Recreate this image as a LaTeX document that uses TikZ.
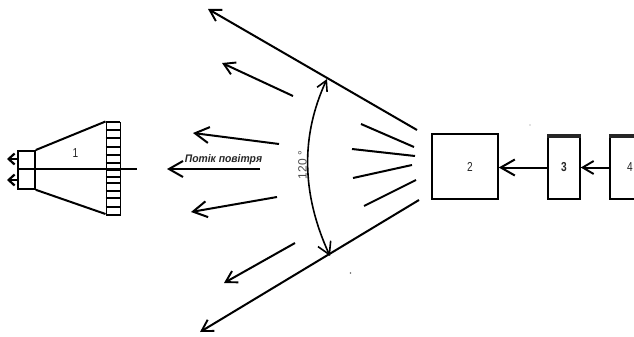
\documentclass[tikz,border=0pt]{standalone}
\usepackage{fontspec}
\setmainfont{Liberation Sans}
\usetikzlibrary{arrows.meta}
\begin{document}
\begin{tikzpicture}[x=1pt,y=-1pt,
  ln/.style={line width=2pt,black},
  arrbig/.style={ln,-{Straight Barb[length=14pt,width=16pt,line width=2pt]}},
  arrmid/.style={ln,-{Straight Barb[length=11pt,width=13pt,line width=1.9pt]}},
  arrsmall/.style={ln,-{Straight Barb[length=6pt,width=11pt,line width=2.2pt]}},
  lbl/.style={font=\fontsize{13}{15}\selectfont,inner sep=0pt,text=black!85,xscale=.78},
  boxn/.style={draw=black,line width=1.8pt,inner sep=0pt,anchor=north west}]
\useasboundingbox (0,0) rectangle (634,337);
% unit 1
\node[boxn,minimum width=17pt,minimum height=38pt] (noz) at (17,150) {};
\coordinate (fT) at (105.5,121.5);
\coordinate (fB) at (105.5,214);
\draw[ln] (noz.north east) -- (fT);
\draw[ln] (noz.south east) -- (fB);
\node[boxn,minimum width=14pt,minimum height=92.5pt] (grid) at (105.5,121.5) {};
\foreach \y in {130,138,147,155,163,170,177,183,191,198,207}
  \draw[line width=1.6pt,black] (105.5,\y) -- (119.5,\y);
\draw[line width=2.6pt] (105.5,122) -- (119.5,122);
\coordinate (axisL) at (17,169);
\coordinate (axisR) at (137,169);
\draw[line width=1.5pt,black] (axisL) -- (axisR);
\coordinate (a1s) at (17,159);
\coordinate (a1e) at (7,159);
\coordinate (a2s) at (17,180);
\coordinate (a2e) at (7,180);
\draw[arrsmall] (a1s) -- (a1e);
\draw[arrsmall] (a2s) -- (a2e);
\node[lbl] (n1) at (75.5,153) {1};
% outer rays
\coordinate (r1s) at (417,130); \coordinate (r1e) at (208,9);
\coordinate (r6s) at (419,200); \coordinate (r6e) at (200,332);
\draw[arrmid] (r1s) -- (r1e);
\draw[arrmid] (r6s) -- (r6e);
% arrows
\coordinate (r2s) at (293,96); \coordinate (r2e) at (222,63);
\coordinate (r3s) at (279,144); \coordinate (r3e) at (193,133);
\coordinate (r4s) at (260,169); \coordinate (r4e) at (167,169);
\coordinate (r5s) at (277,197); \coordinate (r5e) at (191,212);
\coordinate (r7s) at (295,243); \coordinate (r7e) at (224,283);
\draw[arrmid] (r2s) -- (r2e);
\draw[arrbig] (r3s) -- (r3e);
\draw[arrbig] (r4s) -- (r4e);
\draw[arrbig] (r5s) -- (r5e);
\draw[arrmid] (r7s) -- (r7e);
% inner short lines
\coordinate (s1a) at (361,124); \coordinate (s1b) at (414,147);
\coordinate (s2a) at (352,149); \coordinate (s2b) at (415,156);
\coordinate (s3a) at (353,178); \coordinate (s3b) at (412,165);
\coordinate (s4a) at (364,206); \coordinate (s4b) at (416,180);
\foreach \a/\b in {s1a/s1b,s2a/s2b,s3a/s3b,s4a/s4b}
  \draw[ln] (\a) -- (\b);
% angle arc
\coordinate (arcT) at (327,79);
\coordinate (arcB) at (330,256);
\draw[line width=1.6pt,black,{Straight Barb[length=10pt,width=11pt,line width=1.6pt]}-{Straight Barb[length=12pt,width=14pt,line width=1.6pt]}]
  (arcT) .. controls (301,135) and (301,193) .. (arcB);
\node[rotate=90,font=\fontsize{12}{14}\selectfont,inner sep=0pt,text=black!70] (ang) at (302.5,165) {120 °};
\node[font=\fontsize{11}{13}\selectfont\bfseries\itshape,inner sep=0pt,text=black!85,xscale=.94] (flow) at (223.5,159.5) {Потік повітря};
% boxes
\node[boxn,minimum width=66pt,minimum height=65pt] (b2) at (431,133) {};
\node[lbl] at (470,167) {2};
\node[boxn,minimum width=32pt,minimum height=64pt] (b3) at (547,134) {};
\draw[line width=3.5pt,black!85] ([yshift=-1.8pt]b3.north west) -- ([yshift=-1.8pt]b3.north east);
\node[lbl,font=\fontsize{13}{15}\selectfont\bfseries] at (564,167) {3};
\node[boxn,minimum width=40pt,minimum height=64pt] (b4) at (609,134) {};
\draw[line width=3.5pt,black!85] ([yshift=-1.8pt]b4.north west) -- ([yshift=-1.8pt]b4.north east);
\node[lbl] at (630,167) {4};
\coordinate (j3) at (547,167.5);
\coordinate (j4) at (609,167.5);
\draw[arrbig] (j3) -- (j3 -| b2.east);
\draw[arrmid] (j4) -- (j4 -| b3.east);
\fill[black!50] (530,125) circle (0.6pt);
\fill[black!60] (350.5,273) circle (0.9pt);
\end{tikzpicture}
\end{document}
